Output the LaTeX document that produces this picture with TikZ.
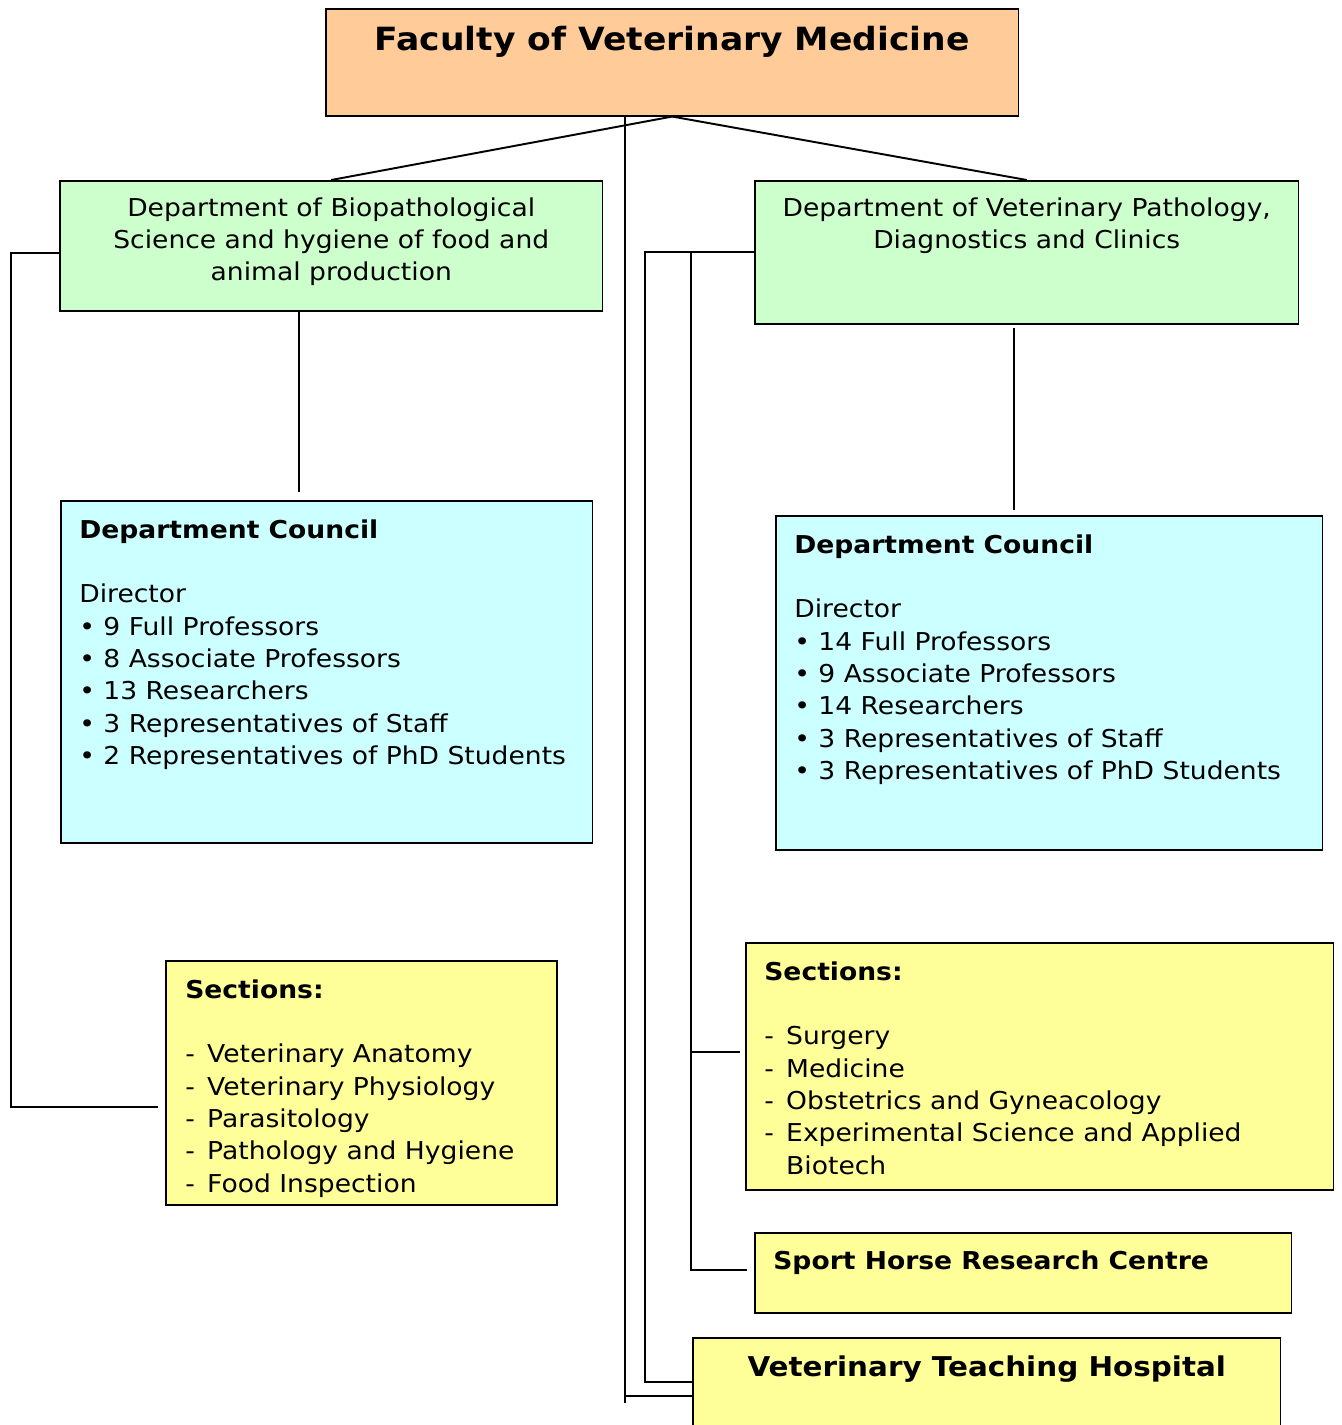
\documentclass[tikz,border=0pt]{standalone}
\usepackage{fontspec}
\setmainfont[FakeStretch=1.08]{DejaVu Sans}
\usetikzlibrary{positioning}
\definecolor{facultyorange}{HTML}{FFCC99}
\definecolor{deptgreen}{HTML}{CCFFCC}
\definecolor{councilcyan}{HTML}{CCFFFF}
\definecolor{sectionyellow}{HTML}{FFFF99}

\begin{document}
\begin{tikzpicture}[x=0.02cm,y=-0.02cm,
  box/.style={draw,line width=0.9pt,rectangle,anchor=north west,inner sep=0pt},
  boxtext/.style={inner sep=0pt,align=left,font=\fontsize{14}{18.4}\selectfont},
  link/.style={line width=1.1pt}]
    \useasboundingbox (0,0) rectangle (1341,1425);

    % boxes
    \node (faculty) [box,fill=facultyorange,minimum width=13.86cm,minimum height=2.14cm] at (325,8) {};
    \node (dept_left) [box,fill=deptgreen,minimum width=10.86cm,minimum height=2.6cm] at (59,180) {};
    \node (dept_right) [box,fill=deptgreen,minimum width=10.88cm,minimum height=2.86cm] at (754,180) {};
    \node (council_left) [box,fill=councilcyan,minimum width=10.64cm,minimum height=6.84cm] at (60,500) {};
    \node (council_right) [box,fill=councilcyan,minimum width=10.94cm,minimum height=6.68cm] at (775,515) {};
    \node (sections_left) [box,fill=sectionyellow,minimum width=7.82cm,minimum height=4.88cm] at (165,960) {};
    \node (sections_right) [box,fill=sectionyellow,minimum width=11.76cm,minimum height=4.94cm] at (745,942) {};
    \node (sport_horse) [box,fill=sectionyellow,minimum width=10.74cm,minimum height=1.6cm] at (754,1232) {};
    \node (hospital) [box,fill=sectionyellow,minimum width=11.76cm,minimum height=2.2cm] at (692,1337) {};

    % texts
    \node (faculty_title) [below=0.36cm of faculty.north,inner sep=0pt,
      font=\fontsize{18.2}{21}\selectfont\bfseries] {Faculty of Veterinary Medicine};
    \node (dept_left_text) [below=0.34cm of dept_left.north,boxtext,align=center]
      {Department of Biopathological\\Science and hygiene of food and\\animal production};
    \node (dept_right_text) [below=0.34cm of dept_right.north,boxtext,align=center]
      {Department of Veterinary Pathology,\\Diagnostics and Clinics};
    \node (council_left_text) [below right=0.38cm and 0.38cm of council_left.north west,boxtext] {%
      \textbf{Department Council}\\[18.4pt]
      Director\\
      • 9 Full Professors\\
      • 8 Associate Professors\\
      • 13 Researchers\\
      • 3 Representatives of Staff\\
      • 2 Representatives of PhD Students};
    \node (council_right_text) [below right=0.38cm and 0.38cm of council_right.north west,boxtext] {%
      \textbf{Department Council}\\[18.4pt]
      Director\\
      • 14 Full Professors\\
      • 9 Associate Professors\\
      • 14 Researchers\\
      • 3 Representatives of Staff\\
      • 3 Representatives of PhD Students};
    \node (sections_left_text) [below right=0.38cm and 0.4cm of sections_left.north west,boxtext] {%
      \textbf{Sections:}\\[18.4pt]
      -\hspace{0.5em}Veterinary Anatomy\\
      -\hspace{0.5em}Veterinary Physiology\\
      -\hspace{0.5em}Parasitology\\
      -\hspace{0.5em}Pathology and Hygiene\\
      -\hspace{0.5em}Food Inspection};
    \node (sections_right_text) [below right=0.38cm and 0.38cm of sections_right.north west,boxtext] {%
      \textbf{Sections:}\\[18.4pt]
      -\hspace{0.5em}Surgery\\
      -\hspace{0.5em}Medicine\\
      -\hspace{0.5em}Obstetrics and Gyneacology\\
      -\hspace{0.5em}Experimental Science and Applied\\
      \hphantom{-}\hspace{0.5em}Biotech};
    \node (sport_horse_text) [below right=0.36cm and 0.38cm of sport_horse.north west,boxtext]
      {\textbf{Sport Horse Research Centre}};
    \node (hospital_text) [below=0.36cm of hospital.north,inner sep=0pt,
      font=\fontsize{15.5}{18}\selectfont\bfseries] {Veterinary Teaching Hospital};

    % connectors
    \coordinate (trunk_bottom) at (625,1403);
    \coordinate (left_rail_bottom) at (11,1107);
    \coordinate (sections_left_stub) at (158,1107);
    \coordinate (right_rail) at (645,252);
    \coordinate (inner_rail) at (691,252);
    \coordinate (sections_right_stub) at (740,1052);
    \coordinate (sport_horse_stub) at (747,1270);
    \coordinate (council_left_stub) at (299,492);
    \coordinate (council_right_top) at (1014,328);
    \coordinate (council_right_stub) at (1014,510);

    \draw[link] (faculty.south) -- (dept_left.north);
    \draw[link] (faculty.south) -- (dept_right.north);
    \draw[link] (faculty.south -| trunk_bottom) -- (trunk_bottom);
    \draw[link] (trunk_bottom |- 0,1396) -- (hospital.west |- 0,1396);
    \draw[link] (dept_left.west |- 0,253) -| (left_rail_bottom) -- (sections_left_stub);
    \draw[link] (dept_left.south -| council_left_stub) -- (council_left_stub);
    \draw[link] (council_right_top) -- (council_right_stub);
    \draw[link] (dept_right.west |- right_rail) -- (right_rail) |- (hospital.west |- 0,1382);
    \draw[link] (inner_rail) |- (sport_horse_stub);
    \draw[link] (inner_rail |- sections_right_stub) -- (sections_right_stub);
\end{tikzpicture}
\end{document}
